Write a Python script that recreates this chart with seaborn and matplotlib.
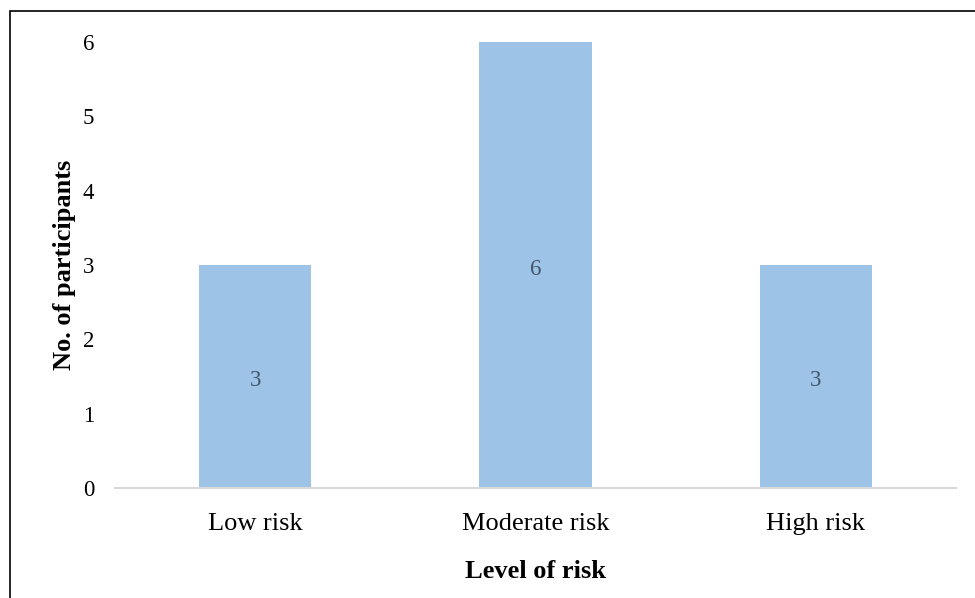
import matplotlib
matplotlib.use("Agg")
import matplotlib.pyplot as plt
import seaborn as sns
import pandas as pd
from matplotlib.patches import Rectangle

categories = ["Low risk", "Moderate risk", "High risk"]
participants = [3, 6, 3]
y_ticks = [0, 1, 2, 3, 4, 5, 6]

sns.set_theme(style="white")
plt.rcParams["font.family"] = ["Liberation Serif", "DejaVu Serif"]

W, H = 975, 598
fig = plt.figure(figsize=(W / 100, H / 100), dpi=100)
ax = fig.add_axes([115 / W, (H - 488) / H, (956 - 115) / W, (488 - 42) / H])

df = pd.DataFrame({"level": categories, "count": participants})
sns.barplot(data=df, x="level", y="count", color="#9DC3E6", saturation=1,
            width=0.4, linewidth=0, ax=ax)

ax.set_xlim(-0.5, len(categories) - 0.5)
ax.set_ylim(0, 6)
ax.set_yticks(y_ticks)
ax.set_yticklabels([str(t) for t in y_ticks])

for s in ["top", "right", "left"]:
    ax.spines[s].set_visible(False)
ax.spines["bottom"].set_color("#D9D9D9")
ax.spines["bottom"].set_linewidth(1.5)

ax.tick_params(axis="both", length=0, colors="black")
ax.tick_params(axis="y", labelsize=16.5, pad=15)
ax.tick_params(axis="x", labelsize=19, pad=18)

for i, v in enumerate(participants):
    ax.annotate(str(v), (i, v / 2), xytext=(0, -3), textcoords="offset points",
                ha="center", va="center", fontsize=16.5, color="#44546A")

ax.set_xlabel("Level of risk", fontsize=19, fontweight="bold", labelpad=18,
              color="black")
ax.set_ylabel("No. of participants", fontsize=19, fontweight="bold", labelpad=5,
              color="black")

# outer frame around the chart area
fig.patches.append(Rectangle((10 / W, -0.05), 1.2, (H - 11) / H + 0.05,
                             transform=fig.transFigure, fill=False,
                             edgecolor="black", linewidth=1.2))

fig.savefig("out.png", dpi=100)
